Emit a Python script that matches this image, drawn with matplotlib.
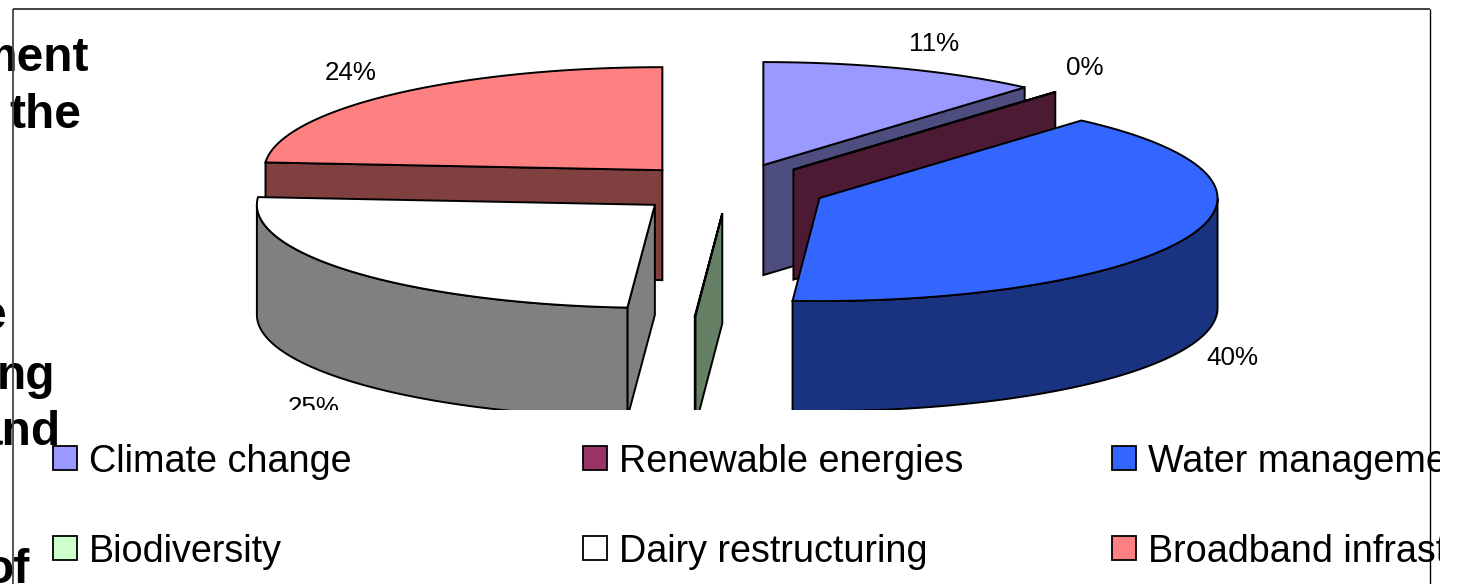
import matplotlib
matplotlib.use("Agg")
import matplotlib.pyplot as plt
import numpy as np
from matplotlib.patches import Polygon, Rectangle
from matplotlib.colors import to_rgb

plt.rcParams['font.family'] = ['Liberation Sans', 'DejaVu Sans']

# data
categorias = ['Climate change', 'Renewable energies', 'Water management',
              'Biodiversity', 'Dairy restructuring', 'Broadband infrastructure']
valores = [11.4, 0.03, 39.65, 0.02, 25.1, 23.8]
cores = ['#9999FF', '#993366', '#3366FF', '#CCFFCC', '#FFFFFF', '#FF8080']

# text of the slide behind the chart (only line ends are visible)
texto_fundo = ['ment', 'the', 'e', 'ng', 'and', 'of']
texto_x = [89, 81, 6, 55, 61, 29]
texto_y = [71, 128, 329, 389, 445, 583]

W, H = 1457, 584
CLIP_Y = 410     # plot area is cut here
CLIP_X = 1440    # legend is cut here

# pie geometry in pixels
cx, cy = 729, 188.5
rx, ry = 398, 103
ex, ey = 98, 25      # explosion
altura = 110

# label positions
rotulo_x = [934, 1085, 1232, 351, 314]
rotulo_y = [44, 68, 358, 73, 408]
rotulo_idx = [0, 1, 2, 5, 4]

fig = plt.figure(figsize=(W / 100, H / 100), dpi=100)


def eixo(x1, y1):
    # axes in pixel coordinates starting from the top left corner
    ax = fig.add_axes([0, 1 - y1 / H, x1 / W, y1 / H])
    ax.set_xlim(0, x1)
    ax.set_ylim(y1, 0)
    ax.axis('off')
    ax.patch.set_alpha(0)
    return ax


# background text
ax_fundo = eixo(W, H)
for txt, x, y in zip(texto_fundo, texto_x, texto_y):
    ax_fundo.text(x, y, txt, fontsize=34.5, fontweight='bold', ha='right', va='baseline', color='black')

# pie
ax = eixo(W, CLIP_Y)
fim = np.cumsum(valores) / np.sum(valores) * 360
inicio = fim - np.array(valores) / np.sum(valores) * 360


def ponto(a, x0, y0):
    a = np.deg2rad(a)
    return x0 + rx * np.sin(a), y0 - ry * np.cos(a)


def escurece(cor):
    return tuple(c * 0.5 for c in to_rgb(cor))


def parede(a, x0, y0, cor):
    px, py = ponto(a, x0, y0)
    ax.add_patch(Polygon([(x0, y0), (px, py), (px, py + altura), (x0, y0 + altura)],
                         closed=True, fc=escurece(cor), ec='black', lw=1.4))


# back to front
for i in [0, 1, 5, 2, 4, 3]:
    a0, a1 = inicio[i], fim[i]
    meio = np.deg2rad((a0 + a1) / 2)
    x0 = cx + ex * np.sin(meio)
    y0 = cy - ey * np.cos(meio)

    # radial walls facing the viewer
    if 0 < a1 < 180:
        parede(a1, x0, y0, cores[i])
    if 180 < a0 < 360:
        parede(a0, x0, y0, cores[i])

    # outer rim
    b0, b1 = max(a0, 90), min(a1, 270)
    if b1 > b0:
        aa = np.linspace(b0, b1, 80)
        xs, ys = ponto(aa, x0, y0)
        borda = list(zip(xs, ys)) + list(zip(xs[::-1], ys[::-1] + altura))
        ax.add_patch(Polygon(borda, closed=True, fc=escurece(cores[i]), ec='black', lw=1.4))

    # top face
    aa = np.linspace(a0, a1, 120)
    xs, ys = ponto(aa, x0, y0)
    ax.add_patch(Polygon([(x0, y0)] + list(zip(xs, ys)), closed=True, fc=cores[i], ec='black', lw=1.4))

for i, x, y in zip(rotulo_idx, rotulo_x, rotulo_y):
    ax.text(x, y, f'{valores[i]:.0f}%', fontsize=18.7, ha='center', va='center', clip_on=True)

# legend
ax_leg = eixo(CLIP_X, H)
col_x = [53, 583, 1112]
lin_y = [458, 548]
for i, nome in enumerate(categorias):
    x = col_x[i % 3]
    y = lin_y[i // 3]
    ax_leg.add_patch(Rectangle((x, y - 12), 24, 24, fc=cores[i], ec='black', lw=1.3))
    ax_leg.text(x + 36, y, nome, fontsize=27.2, ha='left', va='center_baseline', clip_on=True)

# frame
ax_top = eixo(W, H)
ax_top.plot([13, 13], [9, H], color='#444444', lw=1.3, solid_capstyle='butt')
ax_top.plot([13, 1430], [9, 9], color='#333333', lw=1.3, solid_capstyle='butt')
ax_top.plot([1430, 1430], [9, H], color='black', lw=1.0, solid_capstyle='butt')

fig.savefig('out.png', dpi=100)
